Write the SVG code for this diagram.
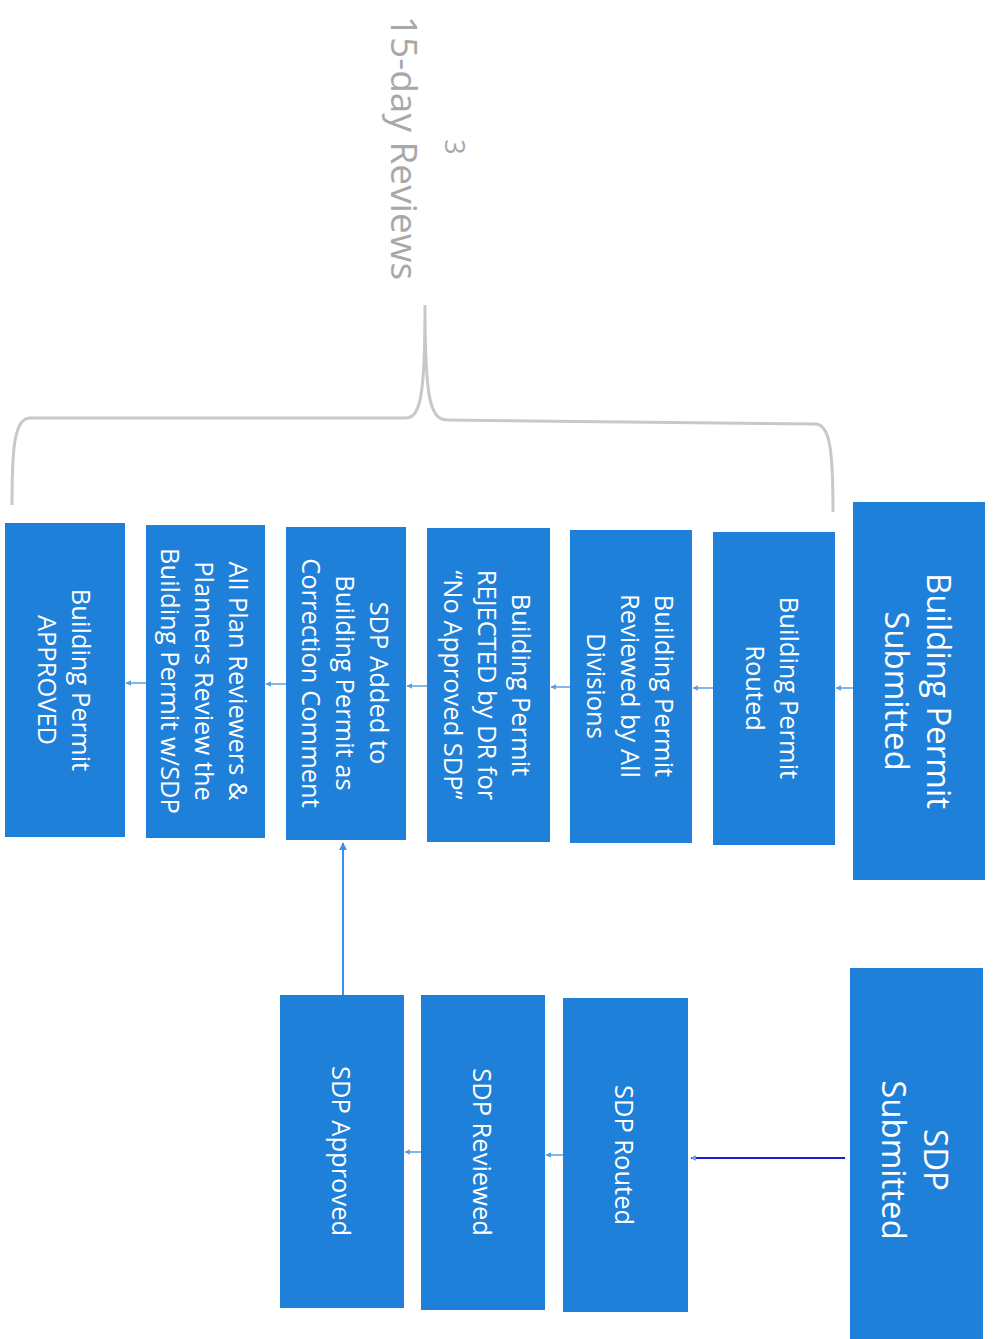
<svg xmlns="http://www.w3.org/2000/svg" width="998" height="1339" viewBox="0 0 998 1339">
<style>
.box{fill:#1f80da;}
.t{font-family:"Open Sans","Noto Sans",sans-serif;fill:#ffffff;text-anchor:middle;dominant-baseline:central;font-size:25.5px;}
.big{font-size:33px;}
.c{stroke:#5d9fe0;stroke-width:1.5;fill:none;}
.brace{stroke:#c8c8c8;stroke-width:3;fill:none;}
.title{font-family:"Open Sans","Noto Sans",sans-serif;fill:#a8a8a8;font-size:37px;}
</style>
<defs>
<marker id="ah" viewBox="0 0 10 10" refX="9" refY="5" markerWidth="6" markerHeight="6" orient="auto" markerUnits="userSpaceOnUse">
<path d="M0,0 L10,5 L0,10 z" fill="#5d9fe0"/>
</marker>
<marker id="ah2" viewBox="0 0 10 10" refX="9" refY="5" markerWidth="8" markerHeight="8" orient="auto" markerUnits="userSpaceOnUse">
<path d="M0,0 L10,5 L0,10 z" fill="#3d8ff0"/>
</marker>
</defs>
<g id="title">
<text class="title" transform="translate(391,148) rotate(90)" text-anchor="middle">15-day Reviews</text>
<text class="title" transform="translate(445,147) rotate(90)" text-anchor="middle" style="font-size:27px">3</text>
<path class="brace" d="M12,505 C12,450 14,418 30,418 L405,418 C420,418 425,400 425,305 C425,400 430,420 448,420 L815,424 C830,424 833,450 833,512"/>
</g>
<g id="bp-submitted">
<rect class="box" x="853" y="502" width="132" height="378"/>
<text class="t big" transform="translate(919,691) rotate(90)"><tspan x="0" y="-21">Building Permit</tspan><tspan x="0" y="21">Submitted</tspan></text>
</g>
<g id="bp-routed">
<rect class="box" x="713" y="532" width="122" height="313"/>
<text class="t" transform="translate(773,688) rotate(90)"><tspan x="0" y="-17">Building Permit</tspan><tspan x="0" y="17">Routed</tspan></text>
</g>
<g id="bp-reviewed">
<rect class="box" x="570" y="530" width="122" height="313"/>
<text class="t" transform="translate(631,686) rotate(90)"><tspan x="0" y="-34">Building Permit</tspan><tspan x="0" y="0">Reviewed by All</tspan><tspan x="0" y="34">Divisions</tspan></text>
</g>
<g id="bp-rejected">
<rect class="box" x="427" y="528" width="123" height="314"/>
<text class="t" transform="translate(488,685) rotate(90)"><tspan x="0" y="-34">Building Permit</tspan><tspan x="0" y="0">REJECTED by DR for</tspan><tspan x="0" y="34">“No Approved SDP”</tspan></text>
</g>
<g id="sdp-added">
<rect class="box" x="286" y="527" width="120" height="313"/>
<text class="t" transform="translate(346,683) rotate(90)"><tspan x="0" y="-34">SDP Added to</tspan><tspan x="0" y="0">Building Permit as</tspan><tspan x="0" y="34">Correction Comment</tspan></text>
</g>
<g id="all-review">
<rect class="box" x="146" y="525" width="119" height="313"/>
<text class="t" transform="translate(205,681) rotate(90)"><tspan x="0" y="-34">All Plan Reviewers &amp;</tspan><tspan x="0" y="0">Planners Review the</tspan><tspan x="0" y="34">Building Permit w/SDP</tspan></text>
</g>
<g id="bp-approved">
<rect class="box" x="5" y="523" width="120" height="314"/>
<text class="t" transform="translate(65,680) rotate(90)"><tspan x="0" y="-17">Building Permit</tspan><tspan x="0" y="17">APPROVED</tspan></text>
</g>
<g id="sdp-submitted">
<rect class="box" x="850" y="968" width="133" height="380"/>
<text class="t big" transform="translate(916,1160) rotate(90)"><tspan x="0" y="-21">SDP</tspan><tspan x="0" y="21">Submitted</tspan></text>
</g>
<g id="sdp-routed">
<rect class="box" x="563" y="998" width="125" height="314"/>
<text class="t" transform="translate(625,1155) rotate(90)"><tspan x="0" y="0">SDP Routed</tspan></text>
</g>
<g id="sdp-reviewed">
<rect class="box" x="421" y="995" width="124" height="315"/>
<text class="t" transform="translate(483,1152) rotate(90)"><tspan x="0" y="0">SDP Reviewed</tspan></text>
</g>
<g id="sdp-approved">
<rect class="box" x="280" y="995" width="124" height="313"/>
<text class="t" transform="translate(342,1151) rotate(90)"><tspan x="0" y="0">SDP Approved</tspan></text>
</g>
<g id="connectors">
<line class="c" x1="853" y1="688" x2="836" y2="688" marker-end="url(#ah)"/>
<line class="c" x1="713" y1="688" x2="693" y2="688" marker-end="url(#ah)"/>
<line class="c" x1="570" y1="687" x2="551" y2="687" marker-end="url(#ah)"/>
<line class="c" x1="427" y1="686" x2="407" y2="686" marker-end="url(#ah)"/>
<line class="c" x1="286" y1="684" x2="266" y2="684" marker-end="url(#ah)"/>
<line class="c" x1="146" y1="683" x2="126" y2="683" marker-end="url(#ah)"/>
<line x1="845" y1="1158" x2="691" y2="1158" stroke="#1a1ad8" stroke-width="2" marker-end="url(#ah)"/>
<line class="c" x1="563" y1="1155" x2="546" y2="1155" marker-end="url(#ah)"/>
<line class="c" x1="421" y1="1152" x2="405" y2="1152" marker-end="url(#ah)"/>
<line x1="343" y1="995" x2="343" y2="843" stroke="#3d8ff0" stroke-width="2" marker-end="url(#ah2)"/>
</g>
</svg>
